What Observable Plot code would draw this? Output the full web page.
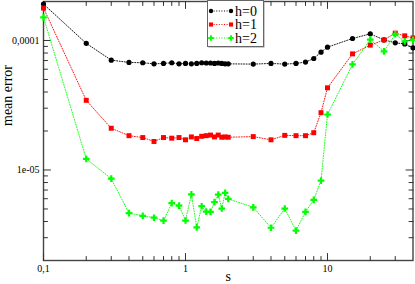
<!DOCTYPE html>
<html><head><meta charset="utf-8">
<script src="https://cdn.jsdelivr.net/npm/d3@7"></script>
<script src="https://cdn.jsdelivr.net/npm/@observablehq/plot@0.6"></script>
<style>
html,body{margin:0;padding:0;background:#fff;}
#wrap{position:relative;width:415px;height:284px;font-family:"Liberation Serif","DejaVu Serif",serif;}
#legend{position:absolute;left:207px;top:0px;}
</style></head><body><div id="wrap"></div>
<script>
const s = [0.1,0.2,0.3,0.4,0.5,0.6,0.7,0.8,0.9,1.0,1.1,1.2,1.3,1.4,1.5,1.6,1.7,1.8,1.9,2.0,3,4,5,6,7,8,9,10,15,20,25,30,35,40];
const h0 = [1.91e-4,9.5e-5,7.05e-5,6.77e-5,
  6.73e-5,6.6e-5,6.65e-5,6.73e-5,6.6e-5,6.65e-5,6.6e-5,6.65e-5,6.73e-5,6.7e-5,6.7e-5,6.65e-5,6.7e-5,6.65e-5,6.6e-5,6.6e-5,
  6.57e-5,6.65e-5,6.57e-5,6.65e-5,6.81e-5,7.26e-5,8.13e-5,8.88e-5,1.036e-4,1.125e-4,1.01e-4,9.6e-5,9.4e-5,8.77e-5];
const h1 = [1.78e-4,3.45e-5,2.1e-5,1.84e-5,
  1.78e-5,1.66e-5,1.78e-5,1.76e-5,1.78e-5,1.71e-5,1.80e-5,1.75e-5,1.82e-5,1.84e-5,1.86e-5,1.80e-5,1.86e-5,1.79e-5,1.80e-5,1.79e-5,
  1.81e-5,1.71e-5,1.85e-5,1.84e-5,1.84e-5,1.94e-5,2.77e-5,4.31e-5,7.88e-5,9.2e-5,1.01e-4,1.14e-4,1.086e-4,1.047e-4];
const h2 = [1.51e-4,1.22e-5,8.57e-6,4.64e-6,
  4.43e-6,4.28e-6,4.06e-6,5.54e-6,5.31e-6,4.07e-6,6.48e-6,3.6e-6,5.25e-6,4.77e-6,4.75e-6,5.64e-6,6.46e-6,5.04e-6,6.65e-6,5.98e-6,
  5.15e-6,3.58e-6,5.04e-6,3.4e-6,4.75e-6,5.88e-6,8.28e-6,2.68e-5,6.53e-5,1.016e-4,8.23e-5,1.118e-4,9.83e-5,1.01e-4];
const seriesNames = ["h=0","h=1","h=2"];
const seriesValues = [h0,h1,h2];
const seriesColors = ["#000000","#ff0000","#00ff00"];
const seriesSymbols = ["circle","square","cross"];
const seriesR = [2.6,2.8,2.8];
const xMajor = [0.1,1,10];
const xTickLabels = ["0,1","1","10"];
const xMinor = [0.2,0.3,0.4,0.5,0.6,0.7,0.8,0.9,2,3,4,5,6,7,8,9,20,30];
const yMajor = [1e-5,1e-4];
const yTickLabels = ["1e-05","0,0001"];
const yMinor = [3e-6,4e-6,5e-6,6e-6,7e-6,8e-6,9e-6,2e-5,3e-5,4e-5,5e-5,6e-5,7e-5,8e-5,9e-5];
const xTitle = "s";
const yTitle = "mean error";

const line = {draw(ctx, l) { ctx.moveTo(0, 0); ctx.lineTo(0, -l); }};
const tickColor = "#333";
function ticks(values, ch, anchor, rotate, len) {
  const o = {frameAnchor: anchor, length: len, rotate, anchor: "start", shape: line, stroke: tickColor, strokeWidth: 1};
  o[ch] = d => d;
  return Plot.vector(values, o);
}

const marks = [];
marks.push(Plot.frame({stroke: "#444", strokeWidth: 1.4}));
marks.push(ticks(xMinor, "x", "bottom", 0, 4), ticks(xMajor, "x", "bottom", 0, 7));
marks.push(ticks(xMinor, "x", "top", 180, 4), ticks(xMajor, "x", "top", 180, 7));
marks.push(ticks(yMinor, "y", "left", 90, 4), ticks(yMajor, "y", "left", 90, 7));
marks.push(ticks(yMinor, "y", "right", -90, 4), ticks(yMajor, "y", "right", -90, 7));
seriesValues.forEach((vals, k) => {
  const rows = s.map((x, i) => ({x, y: vals[i]}));
  marks.push(Plot.line(rows, {x: "x", y: "y", stroke: seriesColors[k], strokeWidth: 0.9, strokeDasharray: "1,1.6"}));
});
seriesValues.forEach((vals, k) => {
  const rows = s.map((x, i) => ({x, y: vals[i]}));
  marks.push(Plot.dot(rows, {x: "x", y: "y", fill: seriesColors[k], symbol: seriesSymbols[k], r: seriesR[k], stroke: "none"}));
});
marks.push(Plot.axisX({ticks: xMajor, tickSize: 0, tickPadding: 4, fontSize: 10, tickFormat: d => xTickLabels[xMajor.indexOf(d)], label: null}));
marks.push(Plot.axisY({ticks: yMajor, tickSize: 0, tickPadding: 4, fontSize: 10, tickFormat: d => yTickLabels[yMajor.indexOf(d)], label: null}));
marks.push(Plot.text([xTitle], {frameAnchor: "bottom", dy: 16, fontSize: 14, lineAnchor: "middle", fill: "#000"}));
marks.push(Plot.text([yTitle], {frameAnchor: "left", dx: -36, dy: -5, rotate: -90, fontSize: 14, lineAnchor: "middle", fill: "#000"}));

const chart = Plot.plot({
  width: 415, height: 284,
  marginLeft: 43, marginRight: 2.5, marginTop: 1, marginBottom: 24,
  style: {fontFamily: "'Liberation Serif', 'DejaVu Serif', serif", color: "#000", background: "#fff"},
  x: {type: "log", domain: [0.1, 40]},
  y: {type: "log", domain: [2e-6, 2e-4]},
  marks
});
const wrap = document.getElementById("wrap");
wrap.appendChild(chart);

// legend
const lw = 57, lh = 47;
const leg = d3.create("svg").attr("id", "legend").attr("width", lw + 2).attr("height", lh + 2)
  .style("position", "absolute").style("left", "207px").style("top", "0px");
leg.append("rect").attr("x", 1.5).attr("y", 1.5).attr("width", lw - 1).attr("height", lh - 1).attr("fill", "#999");
leg.append("rect").attr("x", 0.5).attr("y", 0.5).attr("width", lw - 1).attr("height", lh - 1).attr("fill", "#fff").attr("stroke", "#666");
const symMap = {circle: d3.symbolCircle, square: d3.symbolSquare, cross: d3.symbolCross};
seriesNames.forEach((name, k) => {
  const cy = 11 + k * 13.5;
  leg.append("line").attr("x1", 4).attr("x2", 24).attr("y1", cy).attr("y2", cy)
    .attr("stroke", seriesColors[k]).attr("stroke-dasharray", "1,1.6");
  [4, 24].forEach(cx => {
    leg.append("path").attr("d", d3.symbol(symMap[seriesSymbols[k]], Math.PI * seriesR[k] * seriesR[k] * 0.7)())
      .attr("transform", `translate(${cx},${cy})`).attr("fill", seriesColors[k]);
  });
  leg.append("text").attr("x", 28).attr("y", cy).attr("dy", "0.34em").attr("font-size", 14)
    .attr("font-family", "'Liberation Serif', serif").text(name);
});
wrap.appendChild(leg.node());
</script></body></html>
